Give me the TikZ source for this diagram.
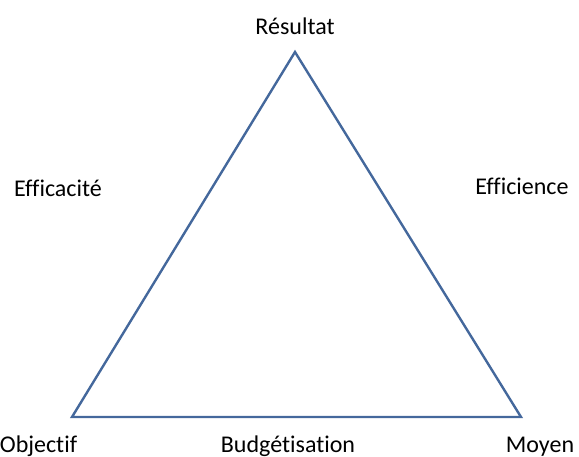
\documentclass[tikz,border=0pt]{standalone}
\usepackage{fontspec}
\setmainfont[Ligatures={NoCommon}]{Carlito}
\definecolor{edge}{RGB}{68,104,156}
\begin{document}
\begin{tikzpicture}[x=1pt,y=-1pt,
  lbl/.style={anchor=base,inner sep=0pt,font=\fontsize{24}{28}\selectfont},
  side/.style={draw=edge,line width=2.4pt,line join=miter}]
\useasboundingbox (0,0) rectangle (579,457);
\coordinate (T) at (295,52);
\coordinate (L) at (72,417);
\coordinate (R) at (521,417);
\draw[side] (T) -- (L) -- (R) -- cycle;
\node[lbl] (res) at (295,35) {Résultat};
\node[lbl] (eca) at (58,197) {Efficacité};
\node[lbl] (eci) at (522,195) {Efficience};
\node[lbl] (obj) at (38.5,452) {Objectif};
\node[lbl] (bud) at (288,452) {Budgétisation};
\node[lbl] (moy) at (540,452) {Moyen};
\end{tikzpicture}
\end{document}
